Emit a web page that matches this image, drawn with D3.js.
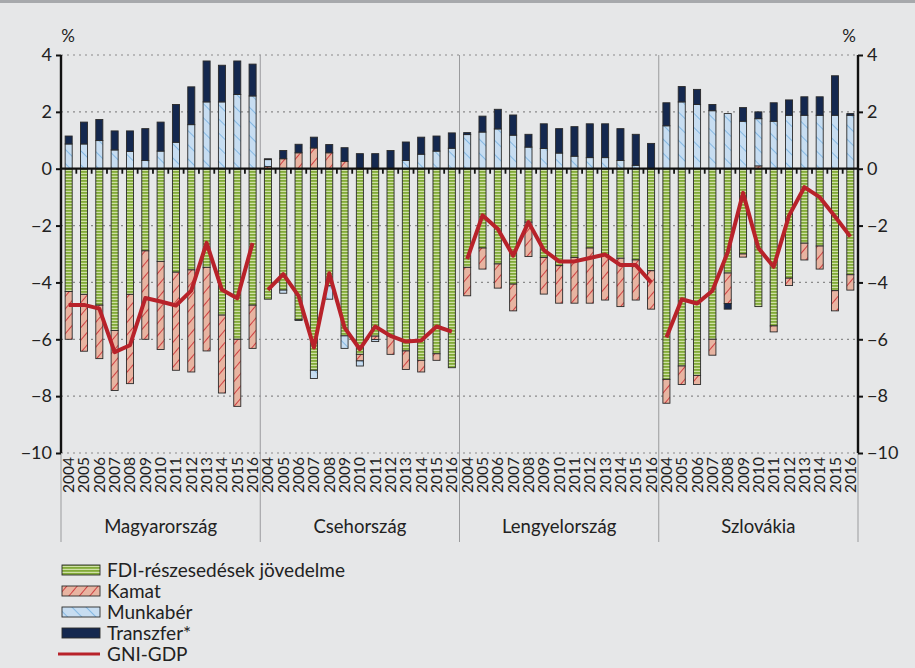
<!DOCTYPE html>
<html>
<head>
<meta charset="utf-8">
<script src="https://cdn.jsdelivr.net/npm/d3@7"></script>
<style>
  body { margin: 0; background: #e6e7e8; }
  svg { display: block; font-family: Lato, "Open Sans", sans-serif; }
</style>
</head>
<body>
<svg width="915" height="668"></svg>
<script>
const countries = ["Magyarország", "Csehország", "Lengyelország", "Szlovákia"];
const years = ["2004", "2005", "2006", "2007", "2008", "2009", "2010", "2011", "2012", "2013", "2014", "2015", "2016"];

// one row of 13 years per country
const fdi = [
    [-4.32, -4.42, -4.8, -5.69, -4.42, -2.89, -3.26, -3.64, -3.56, -3.47, -5.15, -6.0, -4.8],
    [-4.59, -4.27, -5.31, -7.09, -4.12, -5.88, -6.53, -5.89, -5.88, -6.41, -6.74, -6.51, -7.0],
    [-3.47, -2.79, -3.35, -4.06, -1.88, -3.12, -3.41, -3.12, -2.79, -3.02, -3.15, -3.21, -3.59],
    [-7.41, -6.94, -7.27, -6.0, -3.67, -3.0, -4.85, -5.53, -3.85, -2.62, -2.72, -4.29, -3.73]
];
const kamat = [
    [-1.68, -2.0, -1.88, -2.11, -3.14, -3.11, -3.1, -3.45, -3.59, -2.94, -2.74, -2.36, -1.52],
    [0.08, 0.35, 0.56, 0.73, 0.56, 0.26, -0.23, -0.12, -0.65, -0.65, -0.41, -0.23, 0],
    [-1.0, -0.74, -0.85, -0.94, -1.21, -1.29, -1.32, -1.61, -1.94, -1.6, -1.7, -1.41, -1.35],
    [-0.84, -0.65, -0.32, -0.56, -1.07, -0.11, 0.1, -0.21, -0.26, -0.59, -0.81, -0.71, -0.54]
];
const munkaber = [
    [0.87, 0.87, 0.99, 0.66, 0.61, 0.29, 0.62, 0.93, 1.55, 2.35, 2.35, 2.61, 2.56],
    [0.24, -0.11, -0.03, -0.29, -0.47, -0.44, -0.18, -0.07, 0, 0.29, 0.51, 0.62, 0.72],
    [1.2, 1.29, 1.4, 1.18, 0.76, 0.71, 0.55, 0.44, 0.39, 0.39, 0.29, 0.12, 0],
    [1.51, 2.35, 2.26, 2.04, 1.94, 1.67, 1.66, 1.67, 1.88, 1.88, 1.88, 1.88, 1.88]
];
const transzfer = [
    [0.28, 0.77, 0.74, 0.67, 0.72, 1.12, 1.02, 1.33, 1.33, 1.44, 1.29, 1.18, 1.12],
    [0.03, 0.29, 0.3, 0.38, 0.29, 0.48, 0.53, 0.53, 0.64, 0.65, 0.6, 0.53, 0.54],
    [0.07, 0.56, 0.69, 0.71, 0.45, 0.87, 0.86, 1.04, 1.19, 1.19, 1.12, 1.09, 0.89],
    [0.81, 0.54, 0.53, 0.22, -0.2, 0.48, 0.24, 0.65, 0.54, 0.65, 0.65, 1.39, 0.06]
];
const gniGdp = [
    [-4.79, -4.79, -4.92, -6.45, -6.21, -4.55, -4.67, -4.81, -4.29, -2.61, -4.26, -4.56, -2.61],
    [-4.26, -3.71, -4.47, -6.29, -3.68, -5.59, -6.35, -5.55, -5.88, -6.08, -6.04, -5.55, -5.73],
    [-3.18, -1.64, -2.12, -3.06, -1.88, -2.86, -3.26, -3.26, -3.14, -3.02, -3.39, -3.39, -4.0],
    [-5.94, -4.59, -4.74, -4.29, -2.94, -0.85, -2.79, -3.45, -1.65, -0.65, -1.0, -1.68, -2.39]
];
const yTicks = [4, 2, 0, -2, -4, -6, -8, -10];

const seriesKeys = ["fdi", "kamat", "munkaber", "transzfer"];
const seriesNames = {fdi: "FDI-részesedések jövedelme", kamat: "Kamat", munkaber: "Munkabér", transzfer: "Transzfer*"};
const seriesFill = {fdi: "url(#pGreen)", kamat: "url(#pRed)", munkaber: "url(#pBlue)", transzfer: "#14284f"};

const rows = [];
countries.forEach((c, ci) => {
    years.forEach((yr, yi) => {
        rows.push({
            key: c + "|" + yr, country: c, year: yr, ci: ci,
            fdi: fdi[ci][yi], kamat: kamat[ci][yi], munkaber: munkaber[ci][yi],
            transzfer: transzfer[ci][yi], gni: gniGdp[ci][yi]
        });
    });
});

const svg = d3.select("svg");
const plotLeft = 61, plotRight = 858, plotTop = 55, plotBottom = 453;

const x = d3.scaleBand().domain(rows.map(d => d.key)).range([plotLeft, plotRight]).paddingInner(0.54).paddingOuter(0.27);
const xGroup = d3.scaleBand().domain(countries).range([plotLeft, plotRight]);
const y = d3.scaleLinear().domain([-10, 4]).range([plotBottom, plotTop]);

// patterns
const defs = svg.append("defs");
const pg = defs.append("pattern").attr("id", "pGreen").attr("patternUnits", "userSpaceOnUse").attr("width", 8).attr("height", 3);
pg.append("rect").attr("width", 8).attr("height", 3).attr("fill", "#cfe0a6");
pg.append("rect").attr("width", 8).attr("height", 1.8).attr("fill", "#82ab38");

const pr = defs.append("pattern").attr("id", "pRed").attr("patternUnits", "userSpaceOnUse").attr("width", 8).attr("height", 8)
    .attr("patternTransform", "rotate(40)");
pr.append("rect").attr("width", 8).attr("height", 8).attr("fill", "#e8b4a1");
pr.append("line").attr("x1", 0).attr("y1", 0).attr("x2", 0).attr("y2", 8).attr("stroke", "#c9232b").attr("stroke-width", 1.6);

const pb = defs.append("pattern").attr("id", "pBlue").attr("patternUnits", "userSpaceOnUse").attr("width", 10).attr("height", 10)
    .attr("patternTransform", "rotate(-45)");
pb.append("rect").attr("width", 10).attr("height", 10).attr("fill", "#c7ddf1");
pb.append("line").attr("x1", 0).attr("y1", 0).attr("x2", 0).attr("y2", 10).attr("stroke", "#62a6dc").attr("stroke-width", 1.3);

// top band
svg.append("rect").attr("x", 0).attr("y", 0).attr("width", 915).attr("height", 3).attr("fill", "#a7a9ac");

// gridlines
svg.append("g").selectAll("line").data(yTicks.filter(t => t !== 0)).join("line")
    .attr("x1", plotLeft).attr("x2", plotRight).attr("y1", d => y(d)).attr("y2", d => y(d))
    .attr("stroke", "#8a8a8a").attr("stroke-width", 1.2).attr("stroke-dasharray", "2,4");

// group separators
const sepX = countries.map(c => xGroup(c)).concat([plotRight]);
svg.append("g").selectAll("line").data(sepX).join("line")
    .attr("x1", d => d).attr("x2", d => d).attr("y1", plotTop).attr("y2", 542)
    .attr("stroke", "#9a9b9d").attr("stroke-width", 1);

// bars
const stack = d3.stack().keys(seriesKeys).offset(d3.stackOffsetDiverging);
const stacked = stack(rows);
svg.append("g").selectAll("g").data(stacked).join("g")
    .attr("fill", d => seriesFill[d.key])
    .selectAll("rect").data(d => d.filter(p => p[1] !== p[0])).join("rect")
    .attr("x", d => x(d.data.key))
    .attr("width", x.bandwidth())
    .attr("y", d => y(Math.max(d[0], d[1])))
    .attr("height", d => Math.abs(y(d[0]) - y(d[1])))
    .attr("stroke", "#2a2a2a").attr("stroke-width", 0.9);

// zero line with category ticks
svg.append("line").attr("x1", plotLeft).attr("x2", plotRight).attr("y1", y(0)).attr("y2", y(0))
    .attr("stroke", "#111").attr("stroke-width", 2.2);
const step = x.step();
svg.append("g").selectAll("line").data(rows).join("line")
    .attr("x1", d => x(d.key) + x.bandwidth() + (step - x.bandwidth()) / 2)
    .attr("x2", d => x(d.key) + x.bandwidth() + (step - x.bandwidth()) / 2)
    .attr("y1", y(0)).attr("y2", y(0) + 5)
    .attr("stroke", "#111").attr("stroke-width", 1.8);

// GNI-GDP line, one segment per country
const line = d3.line().x(d => x(d.key) + x.bandwidth() / 2).y(d => y(d.gni));
svg.append("g").selectAll("path").data(countries.map((c, i) => rows.filter(r => r.ci === i))).join("path")
    .attr("d", line).attr("fill", "none").attr("stroke", "#b8222a").attr("stroke-width", 4)
    .attr("stroke-linejoin", "round");

// axes
const fmt = d => d < 0 ? "\u2212" + Math.abs(d) : d;
const yAxisL = d3.axisLeft(y).tickValues(yTicks).tickSize(5).tickFormat(fmt);
const yAxisR = d3.axisRight(y).tickValues(yTicks).tickSize(5).tickFormat(fmt);
[[yAxisL, plotLeft], [yAxisR, plotRight]].forEach(([ax, pos]) => {
    const g = svg.append("g").attr("transform", `translate(${pos},0)`).call(ax);
    g.select(".domain").attr("stroke", "#111").attr("stroke-width", 2.4).attr("d", `M0,${plotTop}V${plotBottom}`);
    g.selectAll(".tick line").attr("stroke", "#111").attr("stroke-width", 2);
    g.selectAll(".tick text").attr("font-size", 18).attr("fill", "#222").attr("font-family", "Lato, sans-serif")
        .attr("dx", pos === plotLeft ? -1 : 1);
});

svg.append("text").attr("x", 68).attr("y", 42).attr("text-anchor", "middle").attr("font-size", 17).attr("fill", "#222").text("%");
svg.append("text").attr("x", 849).attr("y", 42).attr("text-anchor", "middle").attr("font-size", 17).attr("fill", "#222").text("%");

// year labels
svg.append("g").selectAll("text").data(rows).join("text")
    .attr("transform", d => `translate(${x(d.key) + x.bandwidth() / 2 + 5.5},${plotBottom + 4}) rotate(-90)`)
    .attr("text-anchor", "end").attr("font-size", 15.5).attr("fill", "#222")
    .text(d => d.year);

// country labels
svg.append("g").selectAll("text").data(countries).join("text")
    .attr("x", d => xGroup(d) + xGroup.bandwidth() / 2).attr("y", 533)
    .attr("text-anchor", "middle").attr("font-size", 18.5).attr("fill", "#222")
    .text(d => d);

// legend
const legend = svg.append("g").attr("transform", "translate(62,570)");
seriesKeys.forEach((k, i) => {
    const g = legend.append("g").attr("transform", `translate(0,${i * 21})`);
    g.append("rect").attr("x", 0).attr("y", -5).attr("width", 38).attr("height", 10)
        .attr("fill", seriesFill[k]).attr("stroke", "#2a2a2a").attr("stroke-width", 0.9);
    g.append("text").attr("x", 45).attr("y", 6.5).attr("font-size", 19).attr("fill", "#222").text(seriesNames[k]);
});
const lg = legend.append("g").attr("transform", `translate(0,${4 * 21})`);
lg.append("line").attr("x1", -4).attr("x2", 38).attr("y1", 0).attr("y2", 0).attr("stroke", "#b8222a").attr("stroke-width", 3);
lg.append("text").attr("x", 45).attr("y", 6.5).attr("font-size", 19).attr("fill", "#222").text("GNI-GDP");
</script>
</body>
</html>
